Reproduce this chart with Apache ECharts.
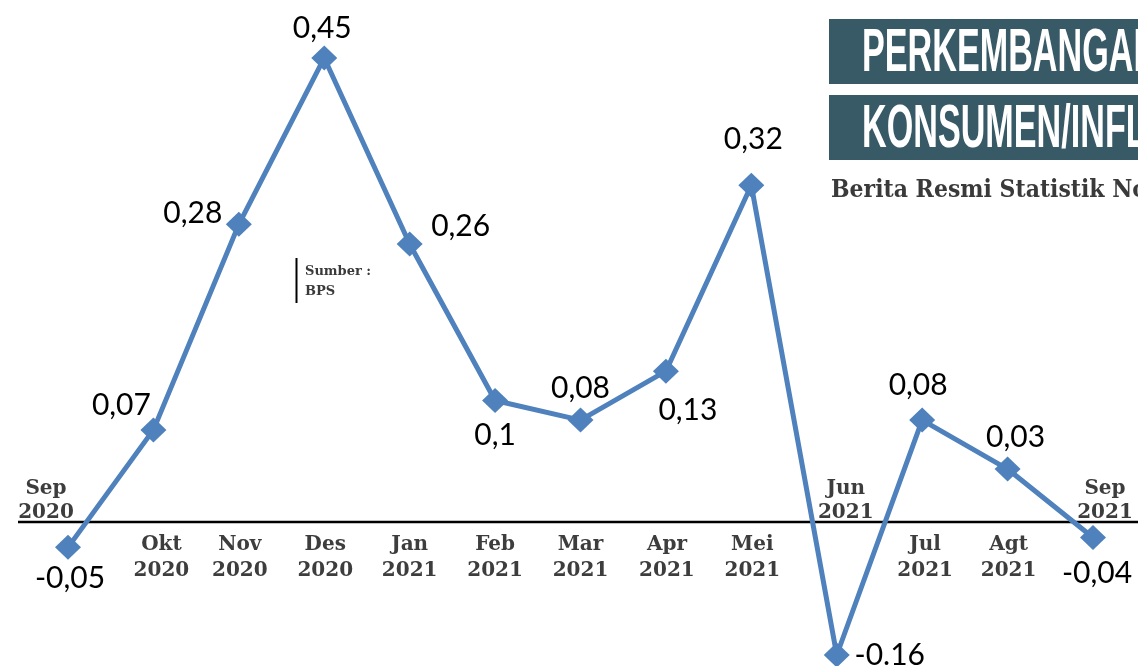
<!DOCTYPE html>
<html>
<head>
<meta charset="utf-8">
<script src="https://cdn.jsdelivr.net/npm/echarts@6/dist/echarts.min.js"></script>
<style>html,body{margin:0;padding:0;background:#fff;}#c{width:1138px;height:666px;}</style>
</head>
<body>
<div id="c"></div>
<script>
// ---- data ----
const months = ['Sep','Okt','Nov','Des','Jan','Feb','Mar','Apr','Mei','Jun','Jul','Agt','Sep'];
const years  = ['2020','2020','2020','2020','2021','2021','2021','2021','2021','2021','2021','2021','2021'];
const inflation = [-0.05, 0.07, 0.28, 0.45, 0.26, 0.10, 0.08, 0.13, 0.32, -0.16, 0.08, 0.03, -0.04];
const valueLabels = ['-0,05','0,07','0,28','0,45','0,26','0,1','0,08','0,13','0,32','-0.16','0,08','0,03','-0,04'];
const titleLines = ['PERKEMBANGAN INDEKS HARGA', 'KONSUMEN/INFLASI'];
const subtitle = 'Berita Resmi Statistik No. 64/10/Th. XXIV, 1 Oktober 2021';
const sourceLines = ['Sumber :', 'BPS'];

// ---- styling (not data) ----
const aboveAxis = [0, 9, 12];           // category labels drawn above the axis line
const labelShift = [-22, 8, 1, 1, 0, 0, 0, 1, 1, 9, 3, 1, 12];
const labelOffsets = [[2,31],[-32,-25],[-46,-11],[-2,-30],[51,-18],[0,35],[0,-32],[22,39],[2,-46],[53,0],[-4,-35],[8,-32],[4,36]];

const categories = months.map((m, i) => m + '\n' + years[i]);

const catFont = {fontFamily: 'DejaVu Serif', fontWeight: 'bold', fontSize: 20, color: '#3d3d3d'};
const rich = {};
months.forEach((m, i) => {
  const s = labelShift[i];
  const above = aboveAxis.indexOf(i) >= 0;
  rich['c' + i] = Object.assign({}, catFont, {
    lineHeight: above ? 24 : 26,
    padding: s < 0 ? [0, -2 * s, 0, 0] : [0, 0, 0, 2 * s]
  });
});
function catFormatter(show) {
  return function (value, index) {
    const above = aboveAxis.indexOf(index) >= 0;
    if (above !== show) return '';
    const parts = value.split('\n');
    return '{c' + index + '|' + parts[0] + '}\n{c' + index + '|' + parts[1] + '}';
  };
}

const seriesData = inflation.map((v, i) => ({
  value: v,
  label: {offset: labelOffsets[i]}
}));

const chart = echarts.init(document.getElementById('c'), null, {renderer: 'canvas'});
const axisOffset = -142.8;
chart.setOption({
  animation: false,
  backgroundColor: '#ffffff',
  grid: {left: 68, right: 45, top: 38.4, height: 626.4, containLabel: false},
  xAxis: [
    {
      type: 'category', data: categories, boundaryGap: false, position: 'bottom', offset: axisOffset,
      axisLine: {show: false, onZero: false}, axisTick: {show: false}, splitLine: {show: false},
      axisLabel: {interval: 0, margin: 10, formatter: catFormatter(false), rich: rich}
    },
    {
      type: 'category', data: categories, boundaryGap: false, position: 'bottom', offset: axisOffset,
      axisLine: {show: false, onZero: false}, axisTick: {show: false}, splitLine: {show: false},
      axisLabel: {interval: 0, inside: true, margin: -3, formatter: catFormatter(true), rich: rich}
    }
  ],
  yAxis: {
    type: 'value', min: -0.17, max: 0.47, show: false, splitLine: {show: false}
  },
  series: [{
    type: 'line',
    xAxisIndex: 0,
    data: seriesData,
    z: 5,
    symbol: 'diamond',
    symbolSize: [26, 25],
    lineStyle: {color: '#4f81bd', width: 5},
    itemStyle: {color: '#4f81bd'},
    label: {
      show: true, position: 'inside',
      formatter: p => valueLabels[p.dataIndex],
      fontFamily: 'Lato', fontSize: 30, color: '#000000',
      align: 'center', verticalAlign: 'middle'
    },
    emphasis: {disabled: true}
  }],
  graphic: [
    {type: 'line', z: 1, shape: {x1: 18, y1: 522, x2: 1138, y2: 522}, style: {stroke: '#000', lineWidth: 2.5}},
    {type: 'rect', z: 1, shape: {x: 829, y: 19, width: 320, height: 65}, style: {fill: '#385966'}},
    {type: 'rect', z: 1, shape: {x: 829, y: 95, width: 320, height: 65}, style: {fill: '#385966'}},
    {type: 'text', z: 2, x: 862, y: 54, scaleX: 0.56,
     style: {text: titleLines[0], font: 'bold 61px "Liberation Sans Narrow", "Liberation Sans"', fill: '#ffffff', textVerticalAlign: 'middle'}},
    {type: 'text', z: 2, x: 862, y: 130, scaleX: 0.56,
     style: {text: titleLines[1], font: 'bold 61px "Liberation Sans Narrow", "Liberation Sans"', fill: '#ffffff', textVerticalAlign: 'middle'}},
    {type: 'text', z: 2, x: 831, y: 191, scaleY: 1.06,
     style: {text: subtitle, font: 'bold 22px "DejaVu Serif"', fill: '#3a3a3a', textVerticalAlign: 'middle'}},
    {type: 'line', z: 1, shape: {x1: 296.5, y1: 258, x2: 296.5, y2: 303}, style: {stroke: '#000', lineWidth: 2}},
    {type: 'text', z: 2, x: 305, y: 272,
     style: {text: sourceLines[0], font: 'bold 13px "DejaVu Serif"', fill: '#3a3a3a', textVerticalAlign: 'middle'}},
    {type: 'text', z: 2, x: 305, y: 292,
     style: {text: sourceLines[1], font: 'bold 13px "DejaVu Serif"', fill: '#3a3a3a', textVerticalAlign: 'middle'}}
  ]
});
</script>
</body>
</html>
